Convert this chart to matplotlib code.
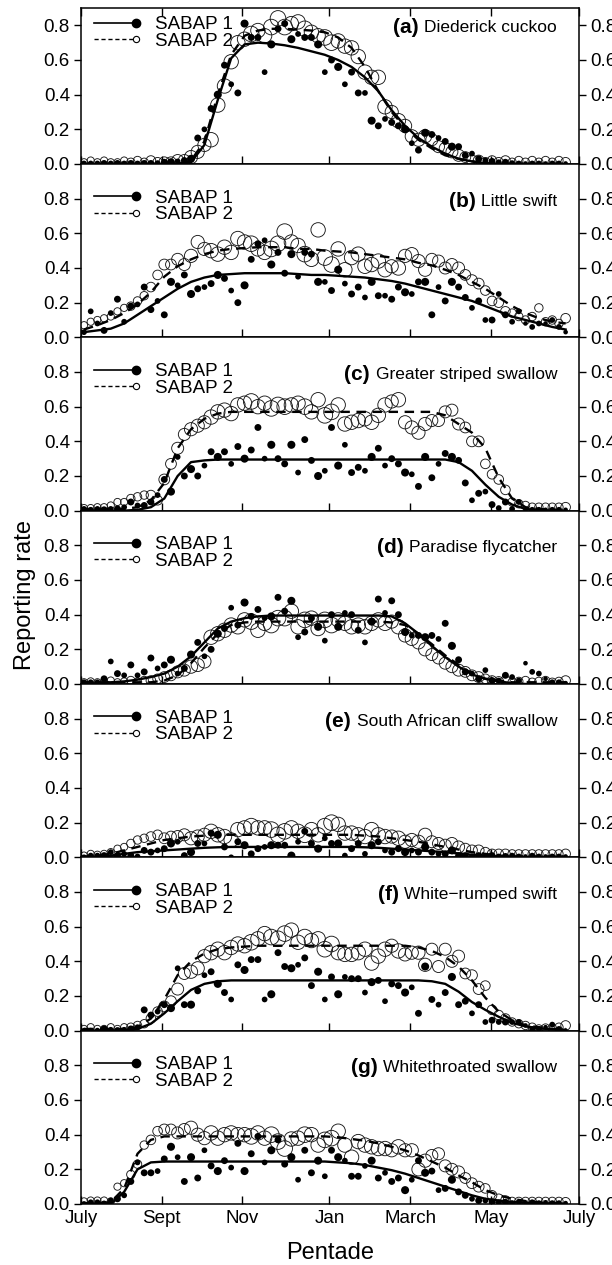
import numpy as np
import matplotlib
matplotlib.use("Agg")
import matplotlib.pyplot as plt
from matplotlib.lines import Line2D
from matplotlib.legend_handler import HandlerLine2D
from matplotlib.transforms import blended_transform_factory

plt.rcParams['font.family'] = ['Liberation Sans', 'DejaVu Sans']

# pentades July -> June (73), fitted curves given every second pentade
pentade = np.arange(73)
fit_pentade = pentade[::2]

month_labels = ["July", "Sept", "Nov", "Jan", "March", "May", "July"]
month_pos = [-0.45, 11.6, 23.6, 36.7, 48.8, 60.9, 74.0]

letters = ["(a)", "(b)", "(c)", "(d)", "(e)", "(f)", "(g)"]
species = ["Diederick cuckoo", "Little swift", "Greater striped swallow",
           "Paradise flycatcher", "South African cliff swallow",
           "White\u2212rumped swift", "Whitethroated swallow"]

# relative number of cards per pentade (marker diameter, px)
n_sabap1 = [5, 5, 5, 6, 5, 6, 5, 6, 5, 6,
            6, 5, 6, 7, 5, 6, 7, 6, 5, 6,
            7, 6, 5, 6, 7, 6, 6, 5, 7, 6,
            6, 7, 5, 6, 6, 7, 5, 6, 7, 5,
            6, 6, 5, 7, 6, 5, 6, 6, 7, 5,
            6, 7, 6, 5, 6, 7, 6, 6, 5, 6,
            5, 6, 5, 6, 5, 5, 4, 5, 5, 4,
            5, 5, 4]
n_sabap2 = [6, 6, 6, 6, 6, 6, 6, 7, 7, 7,
            8, 8, 9, 9, 10, 10, 11, 11, 11, 12,
            12, 12, 12, 12, 12, 13, 12, 12, 13, 13,
            13, 12, 12, 13, 12, 12, 13, 13, 12, 12,
            12, 12, 12, 12, 12, 12, 11, 12, 11, 11,
            11, 11, 10, 10, 10, 10, 10, 9, 9, 9,
            8, 8, 8, 8, 7, 7, 7, 7, 7, 7,
            7, 7, 8]

# (a) Diederick cuckoo
a_s1 = [0.003, 0.003, 0.003, 0.003, 0.003, 0.003, 0.003, 0.003, 0.003, 0.003,
        0.003, 0.005, 0.01, 0.01, 0.015, 0.02, 0.03, 0.15, 0.20, 0.32,
        0.40, 0.57, 0.46, 0.41, 0.81, 0.73, 0.73, 0.53, 0.69, 0.78,
        0.81, 0.72, 0.75, 0.73, 0.73, 0.69, 0.53, 0.60, 0.56, 0.46,
        0.53, 0.41, 0.41, 0.25, 0.22, 0.26, 0.24, 0.22, 0.20, 0.12,
        0.08, 0.18, 0.17, 0.15, 0.13, 0.10, 0.10, 0.05, 0.06, 0.03,
        0.02, 0.015, 0.01, 0.01, 0.005, 0.003, 0.003, 0.003, 0.003, 0.003,
        0.003, 0.003, 0.003]
a_s2 = [0.01, 0.02, 0.01, 0.02, 0.01, 0.01, 0.02, 0.01, 0.02, 0.01,
        0.02, 0.01, 0.01, 0.01, 0.02, 0.02, 0.04, 0.07, 0.11, 0.14,
        0.34, 0.45, 0.59, 0.70, 0.72, 0.75, 0.77, 0.74, 0.79, 0.84,
        0.79, 0.81, 0.82, 0.78, 0.76, 0.74, 0.73, 0.70, 0.71, 0.68,
        0.67, 0.62, 0.53, 0.50, 0.50, 0.33, 0.30, 0.25, 0.22, 0.16,
        0.14, 0.16, 0.14, 0.10, 0.09, 0.07, 0.05, 0.04, 0.02, 0.02,
        0.01, 0.02, 0.01, 0.02, 0.01, 0.02, 0.01, 0.02, 0.01, 0.02,
        0.01, 0.02, 0.01]
a_f1 = [0, 0, 0, 0, 0, 0, 0, 0, 0.01, 0.11,
        0.37, 0.61, 0.69, 0.70, 0.695, 0.685, 0.67, 0.65, 0.63, 0.60,
        0.56, 0.50, 0.42, 0.31, 0.22, 0.15, 0.10, 0.06, 0.03, 0.015,
        0.005, 0, 0, 0, 0, 0, 0]
a_f2 = [0, 0, 0, 0, 0, 0, 0, 0, 0.02, 0.13,
        0.40, 0.63, 0.74, 0.77, 0.78, 0.78, 0.775, 0.77, 0.76, 0.73,
        0.67, 0.56, 0.42, 0.30, 0.21, 0.14, 0.09, 0.05, 0.03, 0.015,
        0.005, 0, 0, 0, 0, 0, 0]

# (b) Little swift
b_s1 = [0.03, 0.15, 0.08, 0.04, 0.14, 0.22, 0.09, 0.18, 0.19, 0.29,
        0.16, 0.21, 0.13, 0.32, 0.30, 0.36, 0.25, 0.28, 0.29, 0.31,
        0.36, 0.34, 0.27, 0.20, 0.30, 0.45, 0.54, 0.56, 0.42, 0.49,
        0.37, 0.48, 0.35, 0.49, 0.48, 0.32, 0.32, 0.27, 0.39, 0.31,
        0.25, 0.29, 0.23, 0.32, 0.24, 0.24, 0.22, 0.29, 0.26, 0.25,
        0.32, 0.32, 0.13, 0.29, 0.21, 0.32, 0.29, 0.23, 0.17, 0.21,
        0.10, 0.10, 0.25, 0.13, 0.09, 0.15, 0.08, 0.06, 0.08, 0.08,
        0.10, 0.06, 0.03]
b_s2 = [0.07, 0.09, 0.10, 0.11, 0.12, 0.15, 0.17, 0.18, 0.21, 0.24,
        0.29, 0.36, 0.42, 0.42, 0.45, 0.42, 0.47, 0.55, 0.51, 0.50,
        0.48, 0.52, 0.49, 0.57, 0.55, 0.54, 0.51, 0.49, 0.51, 0.54,
        0.61, 0.55, 0.53, 0.48, 0.45, 0.62, 0.46, 0.42, 0.51, 0.39,
        0.46, 0.48, 0.41, 0.42, 0.44, 0.39, 0.41, 0.40, 0.47, 0.48,
        0.44, 0.39, 0.45, 0.44, 0.40, 0.42, 0.40, 0.36, 0.33, 0.31,
        0.27, 0.21, 0.20, 0.15, 0.14, 0.12, 0.10, 0.12, 0.17, 0.09,
        0.10, 0.08, 0.11]
b_f1 = [0.03, 0.04, 0.05, 0.08, 0.13, 0.18, 0.23, 0.28, 0.32, 0.345,
        0.36, 0.365, 0.37, 0.37, 0.37, 0.37, 0.365, 0.36, 0.36, 0.355,
        0.35, 0.345, 0.335, 0.325, 0.31, 0.29, 0.27, 0.25, 0.23, 0.21,
        0.18, 0.15, 0.12, 0.10, 0.08, 0.06, 0.045]
b_f2 = [0.045, 0.07, 0.10, 0.14, 0.19, 0.26, 0.35, 0.41, 0.45, 0.48,
        0.50, 0.51, 0.515, 0.52, 0.52, 0.52, 0.51, 0.51, 0.50, 0.495,
        0.49, 0.48, 0.47, 0.46, 0.45, 0.43, 0.415, 0.39, 0.36, 0.32,
        0.28, 0.23, 0.18, 0.14, 0.11, 0.09, 0.08]

# (c) Greater striped swallow
c_s1 = [0.01, 0.005, 0.01, 0.005, 0.01, 0.01, 0.02, 0.05, 0.03, 0.03,
        0.05, 0.09, 0.18, 0.11, 0.31, 0.20, 0.24, 0.20, 0.26, 0.34,
        0.31, 0.34, 0.27, 0.37, 0.30, 0.35, 0.48, 0.30, 0.38, 0.30,
        0.27, 0.38, 0.22, 0.41, 0.29, 0.20, 0.23, 0.48, 0.26, 0.38,
        0.22, 0.25, 0.23, 0.31, 0.36, 0.26, 0.30, 0.27, 0.22, 0.21,
        0.14, 0.31, 0.19, 0.27, 0.33, 0.31, 0.29, 0.16, 0.06, 0.10,
        0.11, 0.035, 0.015, 0.05, 0.01, 0.05, 0.005, 0.005, 0.005, 0.005,
        0.005, 0.005, 0.005]
c_s2 = [0.015, 0.015, 0.02, 0.02, 0.03, 0.05, 0.05, 0.07, 0.08, 0.09,
        0.09, 0.06, 0.18, 0.27, 0.36, 0.44, 0.47, 0.49, 0.51, 0.54,
        0.57, 0.58, 0.56, 0.61, 0.62, 0.63, 0.60, 0.62, 0.59, 0.61,
        0.60, 0.61, 0.62, 0.60, 0.57, 0.64, 0.55, 0.57, 0.61, 0.50,
        0.51, 0.52, 0.53, 0.51, 0.55, 0.61, 0.63, 0.64, 0.51, 0.48,
        0.45, 0.50, 0.52, 0.52, 0.57, 0.58, 0.50, 0.48, 0.40, 0.40,
        0.27, 0.21, 0.18, 0.12, 0.05, 0.04, 0.03, 0.02, 0.02, 0.02,
        0.02, 0.02, 0.02]
c_f1 = [0, 0, 0, 0, 0.005, 0.02, 0.07, 0.20, 0.28, 0.29,
        0.295, 0.295, 0.295, 0.295, 0.295, 0.295, 0.295, 0.295, 0.295, 0.295,
        0.295, 0.295, 0.295, 0.295, 0.295, 0.295, 0.295, 0.295, 0.28, 0.23,
        0.15, 0.08, 0.035, 0.01, 0.003, 0, 0]
c_f2 = [0.01, 0.01, 0.01, 0.01, 0.02, 0.06, 0.16, 0.36, 0.47, 0.53,
        0.56, 0.57, 0.57, 0.57, 0.57, 0.57, 0.57, 0.57, 0.57, 0.57,
        0.57, 0.57, 0.57, 0.57, 0.57, 0.57, 0.57, 0.55, 0.50, 0.45,
        0.36, 0.19, 0.07, 0.02, 0.01, 0.005, 0]

# (d) Paradise flycatcher
d_s1 = [0.01, 0.01, 0.01, 0.03, 0.13, 0.06, 0.05, 0.11, 0.05, 0.07,
        0.15, 0.09, 0.11, 0.14, 0.06, 0.09, 0.17, 0.24, 0.16, 0.20,
        0.29, 0.32, 0.44, 0.34, 0.47, 0.39, 0.43, 0.38, 0.39, 0.50,
        0.42, 0.48, 0.27, 0.30, 0.38, 0.33, 0.25, 0.40, 0.33, 0.41,
        0.40, 0.31, 0.24, 0.36, 0.49, 0.41, 0.48, 0.40, 0.30, 0.28,
        0.28, 0.27, 0.28, 0.26, 0.35, 0.22, 0.14, 0.07, 0.06, 0.03,
        0.08, 0.02, 0.02, 0.05, 0.04, 0.02, 0.12, 0.07, 0.06, 0.03,
        0.01, 0.01, 0.005]
d_s2 = [0.01, 0.015, 0.01, 0.015, 0.02, 0.01, 0.015, 0.02, 0.01, 0.02,
        0.02, 0.03, 0.04, 0.05, 0.07, 0.08, 0.10, 0.11, 0.13, 0.27,
        0.29, 0.31, 0.34, 0.33, 0.37, 0.36, 0.31, 0.35, 0.34, 0.38,
        0.38, 0.42, 0.33, 0.37, 0.38, 0.32, 0.37, 0.34, 0.37, 0.35,
        0.33, 0.34, 0.33, 0.35, 0.37, 0.35, 0.36, 0.33, 0.28, 0.26,
        0.24, 0.20, 0.17, 0.15, 0.12, 0.10, 0.08, 0.07, 0.05, 0.04,
        0.03, 0.02, 0.015, 0.02, 0.01, 0.015, 0.02, 0.01, 0.015, 0.02,
        0.01, 0.015, 0.02]
d_f1 = [0.0, 0.005, 0.01, 0.015, 0.025, 0.04, 0.06, 0.10, 0.16, 0.24,
        0.32, 0.36, 0.38, 0.39, 0.395, 0.395, 0.395, 0.395, 0.395, 0.395,
        0.395, 0.395, 0.395, 0.39, 0.35, 0.29, 0.22, 0.155, 0.10, 0.055,
        0.03, 0.015, 0.005, 0.0, 0.0, 0.0, 0.0]
d_f2 = [0.01, 0.01, 0.01, 0.01, 0.01, 0.01, 0.02, 0.05, 0.12, 0.21,
        0.29, 0.34, 0.355, 0.36, 0.36, 0.36, 0.36, 0.36, 0.36, 0.36,
        0.36, 0.36, 0.36, 0.355, 0.34, 0.29, 0.23, 0.165, 0.11, 0.06,
        0.03, 0.02, 0.01, 0.01, 0.01, 0.01, 0.01]

# (e) South African cliff swallow
e_s1 = [0.0, 0.01, 0.01, 0.01, 0.03, 0.01, 0.02, 0.01, 0.005, 0.04,
        0.03, 0.04, 0.05, 0.08, 0.09, 0.01, 0.03, 0.08, 0.08, 0.14,
        0.13, 0.06, 0.0, 0.09, 0.07, 0.02, 0.05, 0.06, 0.07, 0.07,
        0.07, 0.01, 0.09, 0.15, 0.08, 0.05, 0.11, 0.08, 0.08, 0.01,
        0.05, 0.08, 0.02, 0.07, 0.09, 0.04, 0.03, 0.05, 0.03, 0.04,
        0.03, 0.06, 0.03, 0.02, 0.02, 0.04, 0.01, 0.01, 0.005, 0.01,
        0.005, 0.01, 0.005, 0.005, 0.01, 0.005, 0.005, 0.01, 0.005, 0.005,
        0.005, 0.005, 0.005]
e_s2 = [0.01, 0.02, 0.015, 0.02, 0.03, 0.05, 0.06, 0.08, 0.10, 0.11,
        0.12, 0.13, 0.11, 0.12, 0.12, 0.13, 0.11, 0.12, 0.13, 0.15,
        0.13, 0.12, 0.10, 0.16, 0.17, 0.18, 0.17, 0.17, 0.16, 0.13,
        0.15, 0.17, 0.15, 0.13, 0.16, 0.13, 0.18, 0.20, 0.19, 0.14,
        0.14, 0.13, 0.12, 0.16, 0.13, 0.12, 0.12, 0.11, 0.09, 0.10,
        0.09, 0.13, 0.09, 0.08, 0.07, 0.08, 0.06, 0.05, 0.04, 0.04,
        0.03, 0.02, 0.02, 0.02, 0.02, 0.02, 0.02, 0.02, 0.02, 0.02,
        0.02, 0.02, 0.02]
e_f1 = [0.0, 0.005, 0.01, 0.02, 0.03, 0.035, 0.04, 0.045, 0.05, 0.055,
        0.058, 0.06, 0.06, 0.06, 0.06, 0.06, 0.06, 0.06, 0.06, 0.06,
        0.06, 0.058, 0.055, 0.05, 0.045, 0.04, 0.035, 0.03, 0.022, 0.015,
        0.01, 0.005, 0.003, 0.0, 0.0, 0.0, 0.0]
e_f2 = [0.005, 0.01, 0.02, 0.04, 0.06, 0.08, 0.10, 0.11, 0.12, 0.125,
        0.13, 0.13, 0.13, 0.13, 0.13, 0.13, 0.13, 0.13, 0.13, 0.13,
        0.13, 0.125, 0.12, 0.11, 0.10, 0.09, 0.075, 0.06, 0.045, 0.03,
        0.02, 0.01, 0.005, 0.005, 0.005, 0.005, 0.005]

# (f) White-rumped swift
f_s1 = [0.0, 0.0, 0.0, 0.01, 0.005, 0.0, 0.005, 0.01, 0.02, 0.12,
        0.09, 0.11, 0.15, 0.13, 0.36, 0.15, 0.15, 0.23, 0.32, 0.34,
        0.27, 0.22, 0.18, 0.38, 0.35, 0.41, 0.41, 0.18, 0.21, 0.45,
        0.37, 0.36, 0.38, 0.42, 0.26, 0.34, 0.18, 0.31, 0.21, 0.31,
        0.30, 0.30, 0.22, 0.28, 0.29, 0.17, 0.27, 0.26, 0.22, 0.25,
        0.10, 0.37, 0.18, 0.15, 0.22, 0.31, 0.15, 0.17, 0.10, 0.15,
        0.05, 0.06, 0.05, 0.05, 0.05, 0.05, 0.03, 0.01, 0.01, 0.02,
        0.035, 0.01, 0.0]
f_s2 = [0.01, 0.02, 0.01, 0.01, 0.02, 0.01, 0.02, 0.02, 0.03, 0.04,
        0.07, 0.11, 0.14, 0.17, 0.24, 0.33, 0.34, 0.36, 0.43, 0.45,
        0.47, 0.45, 0.48, 0.50, 0.49, 0.51, 0.53, 0.56, 0.54, 0.53,
        0.56, 0.58, 0.51, 0.54, 0.52, 0.53, 0.47, 0.50, 0.45, 0.44,
        0.44, 0.45, 0.47, 0.39, 0.43, 0.47, 0.49, 0.46, 0.44, 0.45,
        0.45, 0.38, 0.47, 0.37, 0.47, 0.40, 0.43, 0.33, 0.32, 0.24,
        0.26, 0.12, 0.09, 0.07, 0.05, 0.04, 0.03, 0.02, 0.01, 0.015,
        0.015, 0.02, 0.03]
f_f1 = [0.0, 0.0, 0.0, 0.0, 0.01, 0.04, 0.10, 0.17, 0.235, 0.27,
        0.285, 0.29, 0.29, 0.29, 0.29, 0.29, 0.29, 0.29, 0.29, 0.29,
        0.29, 0.29, 0.29, 0.29, 0.29, 0.29, 0.285, 0.27, 0.225, 0.165,
        0.12, 0.08, 0.045, 0.025, 0.013, 0.008, 0.005]
f_f2 = [0.01, 0.01, 0.01, 0.01, 0.02, 0.07, 0.18, 0.32, 0.40, 0.445,
        0.47, 0.48, 0.485, 0.49, 0.49, 0.49, 0.49, 0.49, 0.49, 0.49,
        0.49, 0.49, 0.49, 0.49, 0.49, 0.48, 0.46, 0.425, 0.37, 0.29,
        0.19, 0.11, 0.06, 0.03, 0.02, 0.01, 0.01]

# (g) Whitethroated swallow
g_s1 = [0.0, 0.01, 0.01, 0.0, 0.02, 0.03, 0.05, 0.13, 0.24, 0.18,
        0.18, 0.19, 0.26, 0.33, 0.27, 0.13, 0.27, 0.15, 0.31, 0.22,
        0.19, 0.25, 0.21, 0.35, 0.19, 0.29, 0.39, 0.24, 0.31, 0.37,
        0.23, 0.27, 0.14, 0.31, 0.18, 0.25, 0.16, 0.31, 0.27, 0.25,
        0.16, 0.16, 0.22, 0.25, 0.15, 0.18, 0.13, 0.15, 0.08, 0.14,
        0.25, 0.18, 0.19, 0.08, 0.09, 0.14, 0.07, 0.05, 0.03, 0.02,
        0.02, 0.013, 0.01, 0.01, 0.005, 0.01, 0.005, 0.01, 0.005, 0.01,
        0.005, 0.005, 0.005]
g_s2 = [0.015, 0.02, 0.02, 0.02, 0.015, 0.10, 0.12, 0.17, 0.23, 0.34,
        0.37, 0.42, 0.43, 0.43, 0.41, 0.43, 0.44, 0.40, 0.38, 0.41,
        0.38, 0.40, 0.41, 0.40, 0.40, 0.39, 0.41, 0.38, 0.40, 0.36,
        0.32, 0.375, 0.38, 0.40, 0.40, 0.34, 0.37, 0.38, 0.42, 0.34,
        0.27, 0.36, 0.34, 0.33, 0.32, 0.32, 0.31, 0.33, 0.31, 0.31,
        0.20, 0.25, 0.28, 0.29, 0.22, 0.20, 0.185, 0.15, 0.12, 0.10,
        0.09, 0.05, 0.03, 0.02, 0.015, 0.015, 0.015, 0.015, 0.015, 0.015,
        0.015, 0.015, 0.01]
g_f1 = [0.0, 0.0, 0.0, 0.07, 0.20, 0.24, 0.245, 0.245, 0.245, 0.245,
        0.245, 0.245, 0.245, 0.245, 0.245, 0.245, 0.245, 0.245, 0.245, 0.24,
        0.235, 0.225, 0.21, 0.195, 0.175, 0.15, 0.125, 0.10, 0.075, 0.05,
        0.03, 0.02, 0.012, 0.008, 0.005, 0.003, 0.002]
g_f2 = [0.005, 0.005, 0.01, 0.09, 0.29, 0.37, 0.39, 0.39, 0.39, 0.39,
        0.39, 0.39, 0.39, 0.39, 0.39, 0.39, 0.39, 0.39, 0.39, 0.385,
        0.375, 0.365, 0.35, 0.33, 0.31, 0.28, 0.245, 0.21, 0.165, 0.125,
        0.08, 0.05, 0.03, 0.017, 0.01, 0.007, 0.005]

panels = [(a_s1, a_s2, a_f1, a_f2), (b_s1, b_s2, b_f1, b_f2),
          (c_s1, c_s2, c_f1, c_f2), (d_s1, d_s2, d_f1, d_f2),
          (e_s1, e_s2, e_f1, e_f2), (f_s1, f_s2, f_f1, f_f2),
          (g_s1, g_s2, g_f1, g_f2)]


class EndMarker(HandlerLine2D):
    # legend key: full line with the marker sitting at its right end
    def create_artists(self, legend, orig, xd, yd, w, h, fs, trans):
        y = (h - yd) / 2
        line = Line2D([-xd, -xd + w], [y, y])
        self.update_prop(line, orig, legend)
        line.set_marker('None')
        dot = Line2D([-xd + w - 1], [y])
        self.update_prop(dot, orig, legend)
        dot.set_linestyle('None')
        line.set_transform(trans)
        dot.set_transform(trans)
        return [line, dot]


size1 = (0.72 * 1.15 * np.array(n_sabap1)) ** 2
size2 = (0.72 * 1.2 * np.array(n_sabap2)) ** 2
dash = (0, (4, 2.8))

fig = plt.figure(figsize=(6.12, 12.65), dpi=100)
gs = fig.add_gridspec(7, 1, height_ratios=[0.9, 1, 1, 1, 1, 1, 1],
                      left=81/612, right=579/612, top=1-8/1265, bottom=1-1204/1265,
                      hspace=0)

for k, (s1, s2, f1, f2) in enumerate(panels):
    ax = fig.add_subplot(gs[k])
    ax.scatter(pentade, s2, s=size2, facecolors='none', edgecolors='#1a1a1a', linewidths=0.65)
    ax.scatter(pentade, s1, s=size1, color='black', linewidths=0)
    ax.plot(fit_pentade, f1, color='black', lw=1.7)
    ax.plot(fit_pentade, f2, color='black', lw=1.7, ls=dash)

    ax.set_xlim(month_pos[0], month_pos[-1])
    ax.set_ylim(0, 0.9 if k == 0 else 1.0)
    ax.set_yticks([0, 0.2, 0.4, 0.6, 0.8])
    ax.set_yticklabels(["0.0", "0.2", "0.4", "0.6", "0.8"])
    ax.set_xticks(month_pos)
    ax.set_xticklabels(month_labels)
    ax.tick_params(axis='y', direction='out', length=5, width=1, labelsize=13.5,
                   left=True, right=True, labelleft=True, labelright=True, pad=3)
    ax.tick_params(axis='x', direction='in', length=6, width=1, labelsize=13.5,
                   top=(k == 0), bottom=True, labelbottom=(k == 6), pad=4)
    for sp in ax.spines.values():
        sp.set_linewidth(1.1)

    mix = blended_transform_factory(ax.transAxes, ax.transData)
    h1 = Line2D([], [], color='black', lw=1.2, marker='o', ms=6)
    h2 = Line2D([], [], color='black', lw=1.0, ls=(0, (3, 2)), marker='o', ms=4.5,
                mfc='white', mec='black', mew=0.8)
    ax.legend([h1, h2], ["SABAP 1", "SABAP 2"], handler_map={Line2D: EndMarker()},
              loc='upper left', bbox_to_anchor=(0.026, 0.852), bbox_transform=mix,
              frameon=False, fontsize=13.5, handlelength=2.3, handletextpad=0.95,
              borderpad=0, borderaxespad=0, labelspacing=-0.03)

    name = ax.text(0.956, 0.785, species[k], transform=mix, ha='right', va='center',
                   fontsize=12.5)
    ax.annotate(letters[k], xy=(0, 0.5), xycoords=name, xytext=(-4, 0),
                textcoords='offset points', ha='right', va='center',
                fontsize=15, fontweight='bold')

fig.text(25/612, 1-595/1265, "Reporting rate", rotation=90, ha='center', va='center',
         fontsize=17)
fig.text(330/612, 1-1253/1265, "Pentade", ha='center', va='center', fontsize=17)

fig.savefig("out.png", dpi=100)
